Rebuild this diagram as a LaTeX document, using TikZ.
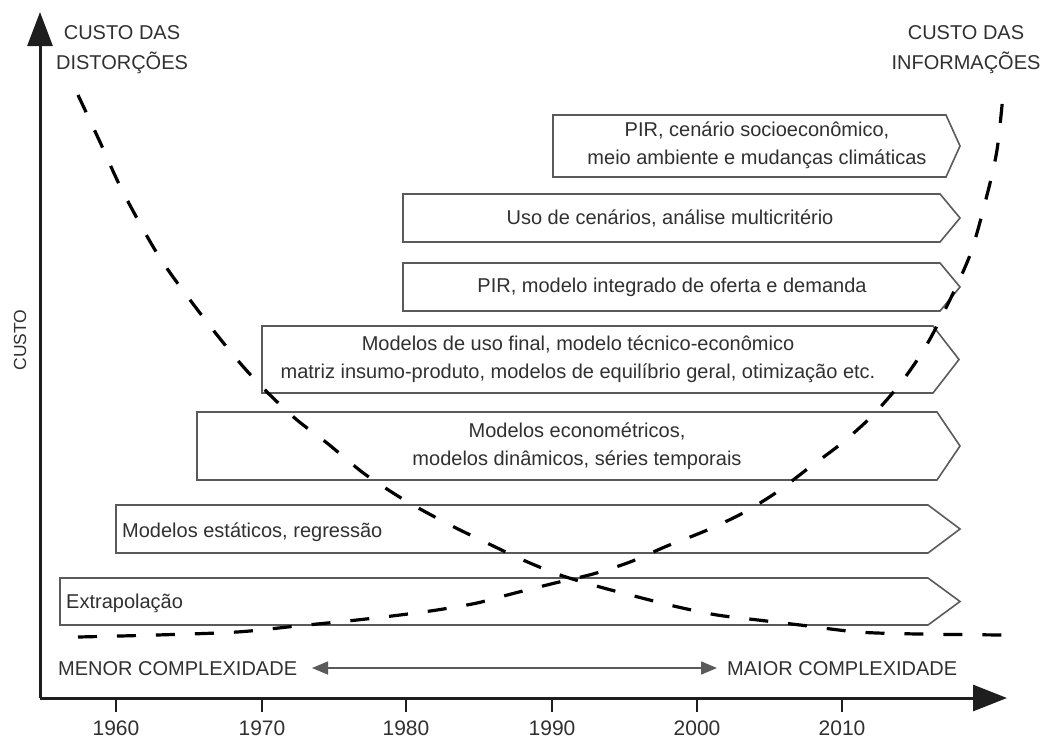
\documentclass[tikz,border=0pt]{standalone}
\usepackage{fontspec}
\setmainfont{Liberation Sans}
\usetikzlibrary{arrows.meta}

\definecolor{ink}{HTML}{303030}
\definecolor{edge}{HTML}{5A5A5A}
\definecolor{axis}{HTML}{1E1E1E}

\tikzset{
  axisline/.style={draw=axis, line width=3pt},
  boxline/.style={draw=edge, line width=1.6pt, fill=white, line join=miter},
  curve/.style={draw=black, line width=3.2pt, dash pattern=on 19pt off 20pt},
  label/.style={text=ink, font=\fontsize{20}{28}\selectfont, inner sep=0pt},
  boxtext/.style={label, align=center},
  yeartext/.style={text=ink, font=\fontsize{21}{25}\selectfont, inner sep=0pt},
  tickline/.style={draw=axis, line width=2pt},
  complex/.style={draw=edge, line width=1.5pt, {Triangle[length=16pt,width=13pt]}-{Triangle[length=16pt,width=13pt]}},
}

% chevron box: left, top, bottom, start of point, tip
\newcommand{\tagbox}[5]{%
  \draw[boxline] (#1,#2) -- (#4,#2) -- (#5,{(#2+#3)/2}) -- (#4,#3) -- (#1,#3) -- cycle;}

\begin{document}
\begin{tikzpicture}[x=1pt, y=-1pt]
\useasboundingbox (0,0) rectangle (1046,742);

% method boxes
\tagbox{553}{115}{177}{946}{960}
\tagbox{403}{194}{242}{940}{960}
\tagbox{403}{263}{311}{940}{960}
\tagbox{262}{326}{393}{933}{959}
\tagbox{197}{412}{480}{937}{960}
\tagbox{116}{505}{553}{928}{960}
\tagbox{60}{578}{625}{928}{960}

\node[boxtext] (pir2) at (757,145) {PIR, cenário socioeconômico,\\meio ambiente e mudanças climáticas};
\node[boxtext] (cen) at (670,218) {Uso de cenários, análise multicritério};
\node[boxtext] (pir1) at (672,287) {PIR, modelo integrado de oferta e demanda};
\node[boxtext] (uso) at (578,359) {Modelos de uso final, modelo técnico-econômico\\matriz insumo-produto, modelos de equilíbrio geral, otimização etc.};
\node[boxtext] (eco) at (577,446) {Modelos econométricos,\\modelos dinâmicos, séries temporais};
\node[label, anchor=west] (est) at (122,532) {Modelos estáticos, regressão};
\node[label, anchor=west] (ext) at (66,603) {Extrapolação};

% cost curves
\draw[curve] plot[smooth] coordinates {(78,95) (100,142) (123,192) (160,258) (203,317) (240,363) (268,393) (297,420) (327,443) (362,472) (390,491) (413,505) (450,525) (487,543) (523,560) (560,575) (600,587) (638,597) (678,607) (717,615) (758,620) (800,625) (858,632) (918,634) (1003,635)};
\draw[curve] plot[smooth] coordinates {(78,637) (157,635) (237,632) (297,626) (357,620) (400,615) (437,610) (477,603) (515,593) (555,583) (593,574) (630,562) (667,546) (705,531) (743,513) (777,492) (810,467) (842,443) (872,416) (900,384) (923,351) (943,314) (970,255) (987,195) (997,150) (1003,95)};

% axes
\coordinate (O) at (40,698);
\coordinate (ytop) at (40,12);
\coordinate (xend) at (1007,698);
\draw[axisline, -{Triangle[length=34pt,width=25pt]}] (O) -- (ytop);
\draw[axisline, -{Triangle[length=34pt,width=26pt]}] (O) -- (xend);

% decade ticks
\foreach \yr/\px in {1960/116, 1970/262, 1980/406, 1990/552, 2000/697, 2010/842} {
  \coordinate (t\yr) at (\px,698);
  \draw[tickline] (t\yr) -- ++(0,14);
  \node[yeartext] (y\yr) at (\px,728) {\yr};
}

% axis labels
\node[label, rotate=90, font=\fontsize{17.5}{20}\selectfont] (custo) at (20,340) {CUSTO};
\node[label, align=center, font=\fontsize{20}{30}\selectfont] (dist) at (122,50) {CUSTO DAS\\DISTORÇÕES};
\node[label, align=center, font=\fontsize{20}{30}\selectfont] (info) at (966,50) {CUSTO DAS\\INFORMAÇÕES};

% complexity scale
\node[label, anchor=west] (menor) at (58,669) {MENOR COMPLEXIDADE};
\node[label, anchor=west] (maior) at (727,669) {MAIOR COMPLEXIDADE};
\coordinate (cl) at (312,668);
\coordinate (cr) at (717,668);
\draw[complex] (cl) -- (cr);
\end{tikzpicture}
\end{document}
